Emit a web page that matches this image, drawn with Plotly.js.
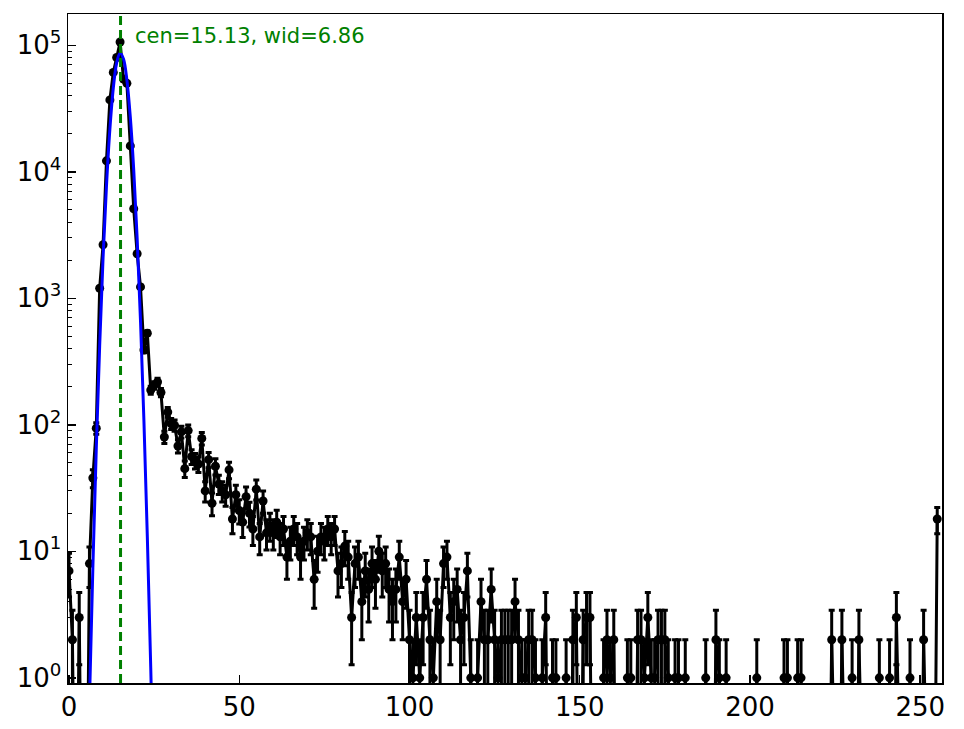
<!DOCTYPE html>
<html>
<head>
<meta charset="utf-8">
<script src="https://cdn.plot.ly/plotly-3.0.1.min.js"></script>
<style>
  body { margin: 0; background: #ffffff; }
  #plot { width: 964px; height: 729px; }
</style>
</head>
<body>
<div id="plot"></div>
<script>
// counts per channel, 0..255
var counts = [
  7, 2, 0, 3, 0, 0, 8, 38, 94, 1200,
  2650, 12200, 37000, 61000, 80000, 106000, 54000, 50000, 16000, 5100,
  2250, 1230, 390, 530, 188, 205, 218, 180, 80, 126,
  102, 99, 68, 88, 45, 90, 56, 52, 49, 78,
  30, 53, 24, 47, 34, 30, 28, 44, 18, 28,
  21, 17, 27, 20, 15, 31, 13, 25, 14, 16,
  14, 17, 13, 15, 9, 12, 15, 13, 9, 12,
  14, 13, 6, 10, 13, 12, 15, 13, 15, 7,
  8, 11, 9, 3, 8, 9, 4, 7, 5, 8,
  6, 10, 7, 8, 5, 4, 5, 9, 4, 6,
  2, 1, 3, 1, 3, 6, 2, 1, 4, 2,
  8, 9, 3, 4, 5, 2, 3, 7, 1, 0,
  1, 4, 2, 2, 5, 2, 1, 2, 2, 2,
  2, 4, 2, 1, 1, 2, 2, 1, 0, 1,
  3, 0, 1, 1, 0, 0, 1, 0, 2, 3,
  0, 2, 3, 3, 0, 0, 0, 1, 2, 1,
  2, 0, 0, 0, 1, 1, 0, 2, 2, 1,
  3, 1, 1, 2, 2, 2, 1, 0, 1, 1,
  0, 1, 0, 0, 0, 0, 0, 1, 0, 0,
  2, 1, 0, 1, 0, 0, 0, 0, 0, 0,
  0, 0, 1, 0, 0, 0, 0, 0, 0, 0,
  1, 1, 0, 0, 1, 1, 0, 0, 0, 0,
  0, 0, 0, 0, 2, 0, 0, 2, 0, 0,
  1, 0, 2, 0, 0, 0, 0, 0, 1, 0,
  0, 1, 0, 3, 0, 0, 0, 1, 0, 0,
  0, 2, 0, 0, 0, 18
];

// gaussian fit
var fitX = [6, 7, 8, 9, 10, 11, 12, 13, 14, 15, 16, 17, 18, 19, 20, 21, 22, 23, 24, 25];
var fitY = [0.64, 7.4, 64, 420, 2100, 7700, 21700, 45700, 72600, 87000,
            78000, 53000, 27000, 10400, 3000, 660, 107, 13, 1.2, 0.087];

var cen = 15.13;
var wid = 6.86;

var xTickVals = [0, 50, 100, 150, 200, 250];
var yTickVals = [1, 10, 100, 1000, 10000, 100000];
var yTickText = ['10<sup>0</sup>', '10<sup>1</sup>', '10<sup>2</sup>', '10<sup>3</sup>', '10<sup>4</sup>', '10<sup>5</sup>'];

var channels = counts.map((v, i) => i);
// empty bins can't sit on a log axis, push them below the frame like matplotlib does
var plotCounts = counts.map(v => v > 0 ? v : 0.01);

var dataTrace = {
  x: channels,
  y: plotCounts,
  type: 'scatter',
  mode: 'lines+markers',
  line: { color: '#000000', width: 3 },
  marker: { color: '#000000', size: 9 },
  error_y: { type: 'sqrt', visible: true, color: '#000000', thickness: 3, width: 3 },
  hoverinfo: 'x+y'
};

var fitTrace = {
  x: fitX,
  y: fitY,
  type: 'scatter',
  mode: 'lines',
  line: { color: '#0000ff', width: 3, shape: 'spline' }
};

var tickFont = { family: 'DejaVu Sans', size: 26, color: '#000000' };

var layout = {
  width: 964,
  height: 729,
  margin: { l: 68, r: 22, t: 14, b: 46 },
  paper_bgcolor: '#ffffff',
  plot_bgcolor: '#ffffff',
  showlegend: false,
  xaxis: {
    range: [-0.3, 256.4],
    tickmode: 'array',
    tickvals: xTickVals,
    ticks: 'inside',
    ticklen: 8,
    tickwidth: 1.5,
    tickcolor: '#000000',
    tickfont: tickFont,
    showgrid: false,
    zeroline: false,
    showline: true,
    mirror: true,
    linecolor: '#000000',
    linewidth: 1.5
  },
  yaxis: {
    type: 'log',
    range: [-0.041, 5.247],
    tickmode: 'array',
    tickvals: yTickVals,
    ticktext: yTickText,
    ticks: 'inside',
    ticklen: 8,
    tickwidth: 1.5,
    tickcolor: '#000000',
    tickfont: tickFont,
    minor: { ticks: 'inside', ticklen: 4, tickwidth: 1, tickcolor: '#000000', dtick: 'D1', showgrid: false },
    showgrid: false,
    zeroline: false,
    showline: true,
    mirror: true,
    linecolor: '#000000',
    linewidth: 1.5
  },
  shapes: [{
    type: 'line',
    xref: 'x',
    yref: 'paper',
    x0: cen,
    x1: cen,
    y0: 0,
    y1: 1,
    line: { color: '#008000', width: 3, dash: '9px,5px' }
  }],
  annotations: [{
    xref: 'x',
    yref: 'y',
    x: 18.85,
    y: 5.07,
    xanchor: 'left',
    yanchor: 'middle',
    showarrow: false,
    text: 'cen=' + cen.toFixed(2) + ', wid=' + wid.toFixed(2),
    font: { family: 'DejaVu Sans', size: 21, color: '#008000' }
  }]
};

Plotly.newPlot('plot', [dataTrace, fitTrace], layout, { displayModeBar: false, staticPlot: true });
</script>
</body>
</html>
